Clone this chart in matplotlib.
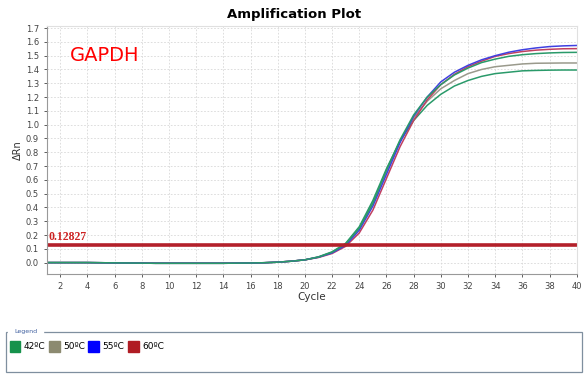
import numpy as np
import matplotlib.pyplot as plt
from matplotlib.patches import Patch, Rectangle

# Cycle numbers and Delta Rn readings
cycles = list(range(1, 41))
base = [0.0, 0.0, 0.0, 0.0, -0.001, -0.002, -0.003, -0.004, -0.005, -0.005,
        -0.005, -0.005, -0.005, -0.005, -0.004, -0.003, -0.001, 0.003, 0.01, 0.02]

rn_42a = base + [0.04, 0.075, 0.135, 0.25, 0.43, 0.67, 0.89, 1.07, 1.2, 1.29,
                 1.36, 1.41, 1.45, 1.475, 1.495, 1.507, 1.515, 1.52, 1.523, 1.524]
rn_42b = base + [0.042, 0.078, 0.14, 0.26, 0.45, 0.68, 0.88, 1.03, 1.14, 1.22,
                 1.28, 1.32, 1.35, 1.37, 1.38, 1.39, 1.393, 1.395, 1.396, 1.396]
rn_50 = base + [0.04, 0.074, 0.135, 0.25, 0.43, 0.66, 0.88, 1.05, 1.17, 1.26,
                1.32, 1.37, 1.40, 1.42, 1.43, 1.44, 1.445, 1.446, 1.447, 1.447]
rn_55 = base + [0.039, 0.07, 0.125, 0.235, 0.41, 0.64, 0.87, 1.06, 1.2, 1.31,
                1.38, 1.43, 1.47, 1.50, 1.525, 1.543, 1.556, 1.566, 1.571, 1.574]
rn_60 = base + [0.037, 0.066, 0.118, 0.215, 0.38, 0.61, 0.84, 1.03, 1.18, 1.29,
                1.365, 1.42, 1.46, 1.495, 1.515, 1.53, 1.54, 1.546, 1.55, 1.551]

threshold = 0.12827
legend_labels = ['42ºC', '50ºC', '55ºC', '60ºC']
legend_colors = ['#16924c', '#8c8a70', '#0000ff', '#b01c24']

fig = plt.figure(figsize=(5.88, 3.82), dpi=100)
ax = fig.add_axes([0.0794, 0.2819, 0.9014, 0.65])

ax.plot(cycles, rn_50, color='#9a9a8c', lw=1.1)
ax.plot(cycles, rn_42b, color='#2a9a6a', lw=1.1)
ax.plot(cycles, rn_60, color='#c04060', lw=1.1)
ax.plot(cycles, rn_55, color='#4040e0', lw=1.1)
ax.plot(cycles, rn_42a, color='#2a9a6a', lw=1.1)

ax.axhline(threshold, color='#b3202a', lw=2.6)
ax.text(1.1, threshold + 0.012, '%.5f' % threshold, color='#cc2222',
        fontsize=8.5, fontweight='bold', family='Liberation Serif', va='bottom')
ax.text(2.7, 1.5, 'GAPDH', color='#ff0000', fontsize=14, va='center')

ax.set_xlim(1, 40)
ax.set_ylim(-0.085, 1.715)
ax.set_xticks(range(2, 41, 2))
ax.set_yticks(np.round(np.arange(0, 1.71, 0.1), 1))
ax.set_yticklabels(['%.1f' % v for v in np.arange(0, 1.71, 0.1)])
ax.tick_params(labelsize=6, colors='#444444', length=2, width=0.6)
ax.grid(True, color='#d8d8d8', ls=(0, (2, 2)), lw=0.6)
for s in ['left', 'bottom']:
    ax.spines[s].set_color('#999999')
for s in ['top', 'right']:
    ax.spines[s].set_color('#e0e0e0')

ax.set_xlabel('Cycle', fontsize=7.5, color='#333333', labelpad=1)
ax.set_ylabel('ΔRn', fontsize=7, color='#333333', labelpad=2)
fig.text(0.5, 0.962, 'Amplification Plot', ha='center', va='center',
         fontsize=9.5, fontweight='bold')

# Legend box
fig.patches.append(Rectangle((6 / 588, 1 - 372 / 382), 576 / 588, 40 / 382,
                             transform=fig.transFigure, fill=False,
                             edgecolor='#7f8f9f', lw=0.9))
fig.text(14 / 588, 1 - 331.5 / 382, 'Legend', fontsize=4.5, color='#4060a0',
         va='center', ha='left', backgroundcolor='white')
handles = [Patch(facecolor=c, edgecolor=c) for c in legend_colors]
fig.legend(handles, legend_labels, loc='upper left',
           bbox_to_anchor=(6 / 588, 1 - 337 / 382), ncol=4, frameon=False,
           fontsize=6.5, handlelength=1.2, handleheight=1.5,
           handletextpad=0.4, columnspacing=0.35, borderaxespad=0)

fig.savefig('out.png', dpi=100)
